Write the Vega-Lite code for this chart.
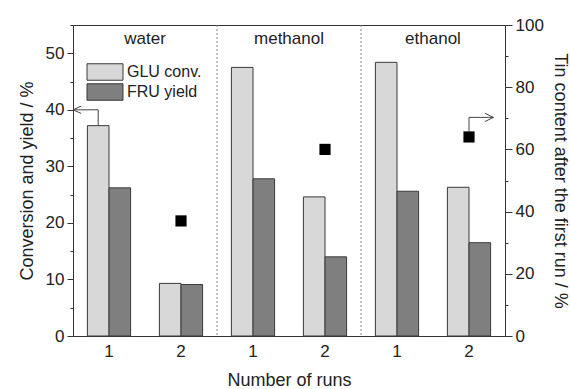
{
  "$schema": "https://vega.github.io/schema/vega-lite/v6.json",
  "width": 432,
  "height": 311,
  "autosize": {"type": "none"},
  "padding": {"left": 73, "top": 25, "right": 65, "bottom": 53},
  "background": "white",
  "config": {
    "font": "Liberation Sans",
    "view": {"stroke": "#333", "strokeWidth": 1},
    "axis": {
      "grid": false,
      "domainColor": "#333",
      "tickColor": "#333",
      "labelColor": "#222",
      "titleColor": "#222",
      "labelFont": "Liberation Sans",
      "titleFont": "Liberation Sans",
      "labelFontSize": 17,
      "titleFontSize": 18,
      "titleFontWeight": "normal"
    },
    "legend": {
      "labelFont": "Liberation Sans",
      "labelFontSize": 16,
      "labelColor": "#222"
    }
  },
  "datasets": {
    "yields": [
      {"group": "water 1", "series": "GLU conv.", "value": 37.2},
      {"group": "water 1", "series": "FRU yield", "value": 26.2},
      {"group": "water 2", "series": "GLU conv.", "value": 9.3},
      {"group": "water 2", "series": "FRU yield", "value": 9.1},
      {"group": "methanol 1", "series": "GLU conv.", "value": 47.5},
      {"group": "methanol 1", "series": "FRU yield", "value": 27.8},
      {"group": "methanol 2", "series": "GLU conv.", "value": 24.6},
      {"group": "methanol 2", "series": "FRU yield", "value": 14.0},
      {"group": "ethanol 1", "series": "GLU conv.", "value": 48.4},
      {"group": "ethanol 1", "series": "FRU yield", "value": 25.6},
      {"group": "ethanol 2", "series": "GLU conv.", "value": 26.3},
      {"group": "ethanol 2", "series": "FRU yield", "value": 16.5}
    ],
    "tin": [
      {"group": "water 2", "tin": 37.0},
      {"group": "methanol 2", "tin": 60.0},
      {"group": "ethanol 2", "tin": 64.0}
    ],
    "solvents": [
      {"solvent": "water"},
      {"solvent": "methanol"},
      {"solvent": "ethanol"}
    ],
    "arrowLeft": [
      {"part": "shaft", "k": 1, "run": 0.35, "pct": 37.2},
      {"part": "shaft", "k": 2, "run": 0.35, "pct": 40.0},
      {"part": "shaft", "k": 3, "run": 0.0, "pct": 40.0},
      {"part": "head", "k": 1, "run": 0.115, "pct": 40.65},
      {"part": "head", "k": 2, "run": 0.0, "pct": 40.0},
      {"part": "head", "k": 3, "run": 0.115, "pct": 39.35}
    ],
    "arrowRight": [
      {"part": "shaft", "k": 1, "run": 5.5, "pct": 65.8},
      {"part": "shaft", "k": 2, "run": 5.5, "pct": 70.3},
      {"part": "shaft", "k": 3, "run": 5.84, "pct": 70.3},
      {"part": "head", "k": 1, "run": 5.72, "pct": 71.65},
      {"part": "head", "k": 2, "run": 5.84, "pct": 70.3},
      {"part": "head", "k": 3, "run": 5.72, "pct": 68.95}
    ]
  },
  "layer": [
    {
      "data": {"name": "yields"},
      "mark": {"type": "bar", "stroke": "#3a3a3a", "strokeWidth": 1},
      "encoding": {
        "x": {
          "field": "group",
          "type": "nominal",
          "sort": ["water 1", "water 2", "methanol 1", "methanol 2", "ethanol 1", "ethanol 2"],
          "scale": {"paddingInner": 0.4, "paddingOuter": 0.2},
          "axis": {
            "title": "Number of runs",
            "labelExpr": "slice(datum.label, -1)",
            "labelAngle": 0,
            "ticks": false,
            "tickSize": 0,
            "labelPadding": 7,
            "titlePadding": 12
          }
        },
        "xOffset": {"field": "series", "type": "nominal", "sort": ["GLU conv.", "FRU yield"]},
        "y": {
          "field": "value",
          "type": "quantitative",
          "scale": {"domain": [0, 55], "nice": false},
          "axis": {
            "orient": "left",
            "title": "Conversion and yield / %",
            "values": [0, 5, 10, 15, 20, 25, 30, 35, 40, 45, 50, 55],
            "labelExpr": "datum.value % 10 === 0 ? datum.label : ''",
            "tickSize": {"condition": {"test": "datum.value % 10 === 0", "value": 6}, "value": 3},
            "labelPadding": 3,
            "titlePadding": 9
          }
        },
        "fill": {
          "field": "series",
          "type": "nominal",
          "scale": {"domain": ["GLU conv.", "FRU yield"], "range": ["#d8d8d8", "#7f7f7f"]},
          "legend": {
            "title": null,
            "orient": "none",
            "legendX": 23,
            "legendY": 38,
            "padding": 0,
            "symbolType": "M-2.118,-0.97H2.118V0.97H-2.118Z",
            "symbolSize": 289,
            "symbolStrokeColor": "#3a3a3a",
            "symbolStrokeWidth": 1,
            "symbolOpacity": 1,
            "labelOffset": 13,
            "rowPadding": -2
          }
        }
      }
    },
    {
      "data": {"name": "solvents"},
      "mark": {"type": "text", "fontSize": 17, "color": "#222", "baseline": "middle"},
      "encoding": {
        "x": {
          "field": "solvent",
          "type": "nominal",
          "scale": {"domain": ["water", "methanol", "ethanol"], "paddingInner": 0, "paddingOuter": 0},
          "axis": null
        },
        "y": {"datum": 52.5, "type": "quantitative", "scale": {"domain": [0, 55], "nice": false}, "axis": null},
        "text": {"field": "solvent"}
      }
    },
    {
      "data": {"name": "solvents"},
      "transform": [{"filter": "datum.solvent !== 'ethanol'"}],
      "mark": {"type": "rule", "color": "#888", "strokeWidth": 1, "strokeDash": [2, 2]},
      "encoding": {
        "x": {
          "field": "solvent",
          "type": "nominal",
          "bandPosition": 1,
          "scale": {"domain": ["water", "methanol", "ethanol"], "paddingInner": 0, "paddingOuter": 0},
          "axis": null
        }
      }
    },
    {
      "data": {"name": "arrowLeft"},
      "mark": {"type": "line", "color": "#444", "strokeWidth": 1},
      "encoding": {
        "x": {"field": "run", "type": "quantitative", "scale": {"domain": [0, 6], "nice": false}, "axis": null},
        "y": {"field": "pct", "type": "quantitative", "scale": {"domain": [0, 55], "nice": false}, "axis": null},
        "detail": {"field": "part"},
        "order": {"field": "k"}
      }
    },
    {
      "data": {"name": "arrowRight"},
      "mark": {"type": "line", "color": "#444", "strokeWidth": 1},
      "encoding": {
        "x": {"field": "run", "type": "quantitative", "scale": {"domain": [0, 6], "nice": false}, "axis": null},
        "y": {"field": "pct", "type": "quantitative", "scale": {"domain": [0, 100], "nice": false}, "axis": null},
        "detail": {"field": "part"},
        "order": {"field": "k"}
      }
    },
    {
      "data": {"name": "tin"},
      "mark": {"type": "square", "size": 125, "filled": true, "color": "#000", "opacity": 1},
      "encoding": {
        "x": {
          "field": "group",
          "type": "nominal",
          "scale": {
            "domain": ["water 1", "water 2", "methanol 1", "methanol 2", "ethanol 1", "ethanol 2"],
            "paddingInner": 0.4,
            "paddingOuter": 0.2
          },
          "axis": null
        },
        "y": {
          "field": "tin",
          "type": "quantitative",
          "scale": {"domain": [0, 100], "nice": false},
          "axis": {
            "orient": "right",
            "title": "Tin content after the first run / %",
            "values": [0, 10, 20, 30, 40, 50, 60, 70, 80, 90, 100],
            "labelExpr": "datum.value % 20 === 0 ? datum.label : ''",
            "tickSize": {"condition": {"test": "datum.value % 20 === 0", "value": 7}, "value": 3},
            "labelPadding": 3,
            "titlePadding": 7
          }
        }
      }
    }
  ],
  "resolve": {"scale": {"x": "independent", "y": "independent", "fill": "independent"}}
}
